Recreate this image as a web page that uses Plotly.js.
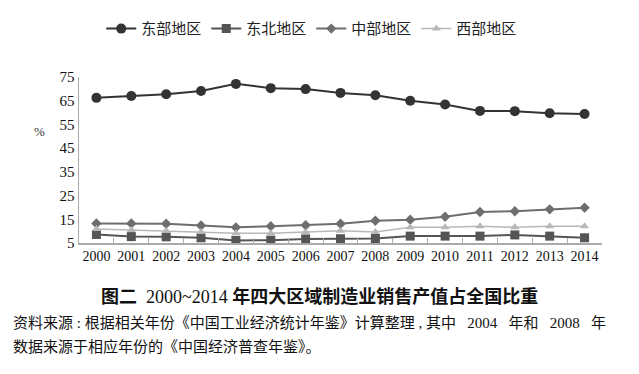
<!DOCTYPE html>
<html><head><meta charset="utf-8">
<script src="https://cdn.plot.ly/plotly-3.0.1.min.js"></script>
<style>body{margin:0;background:#fff}#c{width:639px;height:374px}</style>
</head><body><div id="c"></div>
<script>
const years = ['2000','2001','2002','2003','2004','2005','2006','2007','2008','2009','2010','2011','2012','2013','2014'];
const east = [66.2,67.0,67.7,69.1,72.1,70.3,69.9,68.3,67.3,65.0,63.4,60.7,60.6,59.7,59.4];
const northeast = [8.6,7.7,7.6,7.2,6.1,6.2,6.7,6.8,6.9,7.9,7.9,7.9,8.4,7.9,7.2];
const central = [13.2,13.2,13.1,12.4,11.6,12.1,12.5,13.1,14.4,14.8,16.1,18.1,18.4,19.2,19.9];
const west = [10.9,10.5,10.1,9.6,9.1,9.1,9.6,10.2,9.6,11.6,11.6,12.1,11.6,12.1,12.1];
const yTicks = [5,15,25,35,45,55,65,75];
const names = ['东部地区','东北地区','中部地区','西部地区'];

const cjk = '"Noto Sans CJK SC", sans-serif';
const serif = '"Liberation Serif", "Noto Sans CJK SC", serif';

function tr(y, name, color, sym, size, w){
  return {x: years, y: y, name: name, type:'scatter', mode:'lines+markers',
    line:{color: color, width: w}, marker:{symbol: sym, size: size, color: color}};
}
const data = [
  tr(east, names[0], '#333333', 'circle', 10, 2),
  tr(northeast, names[1], '#555555', 'square', 9, 2),
  tr(central, names[2], '#6e6e6e', 'diamond', 8, 2),
  tr(west, names[3], '#b8b8b8', 'triangle-up', 8, 1.5)
];
const layout = {
  width: 639, height: 374,
  margin: {l:79, r:37, t:72, b:131},
  paper_bgcolor:'#fff', plot_bgcolor:'#fff',
  showlegend: true,
  legend: {orientation:'h', x:0.445, xanchor:'center', y:1.29, yanchor:'middle',
    font:{family: cjk, size:15, color:'#222'}, itemwidth:30, tracegroupgap:0},
  xaxis: {type:'category', showgrid:false, zeroline:false, showline:true, linecolor:'#aaa', linewidth:1.5,
    ticks:'inside', tickson:'boundaries', ticklen:5, tickcolor:'#aaa', tickangle:0,
    tickfont:{family: serif, size:14, color:'#111'}, range:[-0.5,14.5]},
  yaxis: {range:[5,75], tickvals: yTicks, showgrid:false, zeroline:false, showline:true,
    linecolor:'#aaa', linewidth:1.5, ticks:'', tickfont:{family: serif, size:15, color:'#111'}},
  annotations: [
    {text:'%', xref:'paper', yref:'paper', x:-0.075, y:0.67, xanchor:'center', yanchor:'middle',
     showarrow:false, font:{family: serif, size:13, color:'#333'}},
    {text:'<b>图二</b>  2000~2014 <b>年四大区域制造业销售产值占全国比重</b>', xref:'paper', yref:'paper',
     x:0.46, y:-0.32, xanchor:'center', yanchor:'middle', showarrow:false,
     font:{family: serif, size:18, color:'#111'}},
    {text:'资料来源 : 根据相关年份《中国工业经济统计年鉴》计算整理 , 其中   2004   年和   2008   年', xref:'paper', yref:'paper',
     x:-0.13, y:-0.48, xanchor:'left', yanchor:'middle', showarrow:false,
     font:{family: serif, size:15, color:'#111'}},
    {text:'数据来源于相应年份的《中国经济普查年鉴》。', xref:'paper', yref:'paper',
     x:-0.13, y:-0.625, xanchor:'left', yanchor:'middle', showarrow:false,
     font:{family: serif, size:15, color:'#111'}}
  ]
};
Plotly.newPlot('c', data, layout, {displayModeBar:false, staticPlot:true});
</script></body></html>
